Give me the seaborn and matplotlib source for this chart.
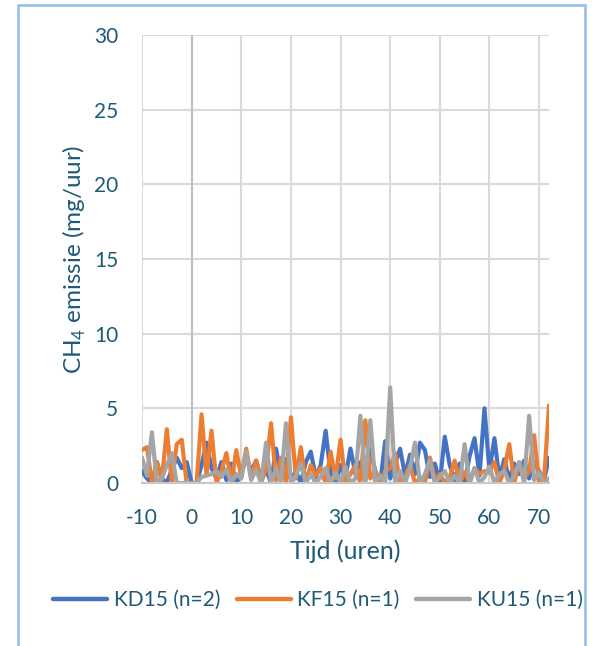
import numpy as np
import pandas as pd
import seaborn as sns
import matplotlib
matplotlib.use("Agg")
import matplotlib.pyplot as plt
from matplotlib.patches import Rectangle

# Hourly CH4 emission per treatment group
hours = list(range(-10, 73))
kd15 = [0.8, 0.3, 0.0, 1.4, 0.3, 0.0, 0.9, 1.7, 1.0, 1.4,
        0.0, 0.0, 1.2, 2.7, 1.0, 0.3, 1.4, 0.2, 1.3, 0.0,
        0.6, 1.7, 0.8, 1.5, 0.2, 0.9, 0.0, 2.3, 0.5, 1.6,
        0.2, 0.8, 0.0, 1.4, 2.1, 0.4, 1.2, 3.5, 0.6, 0.0,
        1.2, 0.4, 2.3, 0.6, 1.4, 0.2, 2.2, 0.8, 0.0, 2.8,
        0.3, 1.3, 2.3, 0.5, 1.9, 0.6, 2.7, 2.2, 0.4, 1.3,
        0.0, 3.1, 1.2, 0.2, 1.3, 0.0, 1.8, 3.0, 0.5, 5.0,
        0.8, 3.0, 0.3, 1.6, 0.2, 1.3, 0.6, 1.5, 0.3, 1.4,
        0.8, 0.2, 1.7]
kf15 = [2.2, 2.4, 0.0, 1.4, 0.2, 3.6, 0.0, 2.6, 2.9, 0.0,
        0.0, 0.0, 4.6, 0.5, 3.5, 0.0, 0.8, 2.0, 0.0, 2.2,
        0.4, 2.3, 0.3, 1.5, 0.0, 1.0, 4.0, 0.2, 1.7, 0.0,
        4.4, 0.3, 2.4, 0.0, 1.2, 0.5, 1.0, 0.0, 2.1, 0.3,
        2.9, 0.0, 0.6, 1.2, 0.0, 4.2, 0.3, 0.8, 0.0, 0.8,
        1.0, 2.0, 0.0, 0.4, 1.2, 0.0, 0.3, 0.0, 1.7, 0.2,
        0.6, 0.0, 0.4, 1.5, 0.0, 0.7, 0.0, 1.0, 0.6, 0.8,
        0.7, 1.4, 0.0, 0.9, 2.6, 0.0, 1.4, 0.3, 0.8, 3.2,
        0.0, 0.2, 5.2]
ku15 = [1.7, 0.5, 3.4, 0.0, 0.3, 1.2, 2.0, 0.0, 0.0, 0.0,
        0.0, 0.0, 0.4, 0.5, 0.6, 0.8, 0.4, 0.9, 0.0, 0.6,
        0.3, 2.1, 0.2, 0.9, 0.0, 2.7, 0.0, 1.0, 0.0, 4.0,
        0.0, 0.5, 1.3, 0.0, 0.6, 0.0, 0.4, 1.0, 0.0, 0.7,
        0.0, 1.1, 0.0, 0.3, 4.5, 0.0, 4.2, 0.0, 0.5, 0.0,
        6.4, 0.0, 0.8, 0.0, 1.0, 2.7, 0.0, 0.6, 1.5, 0.0,
        0.4, 0.8, 0.0, 0.5, 0.0, 2.6, 0.0, 1.0, 0.0, 0.4,
        1.1, 0.0, 0.6, 0.8, 0.0, 0.5, 1.4, 0.0, 4.5, 0.2,
        0.7, 0.0, 0.3]
series_names = ["KD15 (n=2)", "KF15 (n=1)", "KU15 (n=1)"]
colors = ["#4472C4", "#ED7D31", "#A5A5A5"]
x_ticks = list(range(-10, 71, 10))
y_ticks = list(range(0, 31, 5))

df = pd.DataFrame({
    "Tijd": hours * 3,
    "CH4": kd15 + kf15 + ku15,
    "Groep": [series_names[0]] * len(hours) + [series_names[1]] * len(hours)
             + [series_names[2]] * len(hours),
})

sns.set_theme(style="white")
plt.rcParams["font.family"] = ["Lato", "DejaVu Sans"]
plt.rcParams["mathtext.fontset"] = "custom"
plt.rcParams["mathtext.rm"] = "Lato"
plt.rcParams["axes.unicode_minus"] = False
text_color = "#1F5A78"

fig = plt.figure(figsize=(5.92, 6.46), dpi=100)
ax = fig.add_axes([142 / 592, 1 - 483 / 646, (549 - 142) / 592, (483 - 35) / 646])

sns.lineplot(data=df, x="Tijd", y="CH4", hue="Groep", hue_order=series_names,
             palette=colors, linewidth=3.0, ax=ax, legend=True,
             solid_capstyle="round", solid_joinstyle="round")

ax.set_xlim(-10, 72)
ax.set_ylim(0, 30)
ax.set_xticks(x_ticks)
ax.set_yticks(y_ticks)
ax.grid(True, color="#D9D9D9", linewidth=1.5, zorder=0)
ax.set_axisbelow(True)
for side in ["top", "right", "left"]:
    ax.spines[side].set_visible(False)
ax.spines["bottom"].set_color("#C8C8C8")
ax.spines["bottom"].set_linewidth(1.5)
ax.axvline(0, color="#BFBFBF", linewidth=1.5, zorder=1)

ax.tick_params(axis="both", length=0, labelsize=15, colors=text_color)
ax.tick_params(axis="y", pad=17)
ax.tick_params(axis="x", pad=18)
ax.set_xlabel("Tijd (uren)", fontsize=18, color=text_color, labelpad=8)
ax.set_ylabel(r"CH$_\mathregular{4}$ emissie (mg/uur)", fontsize=17.5,
              color=text_color, labelpad=4.5)

handles, labels = ax.get_legend_handles_labels()
ax.get_legend().remove()
for h in handles:
    h.set_linewidth(3.2)
leg = fig.legend(handles, labels, loc="center", bbox_to_anchor=(318 / 592, 1 - 600 / 646),
                 ncol=3, frameon=False, fontsize=15, handlelength=2.6,
                 handletextpad=0.3, columnspacing=0.8, borderaxespad=0)
for t in leg.get_texts():
    t.set_color(text_color)

# Outer chart frame
fig.patches.append(Rectangle((18 / 592, -0.05), (585 - 18) / 592, 1 - 5 / 646 + 0.05,
                             transform=fig.transFigure, fill=False,
                             edgecolor="#8FBCE6", linewidth=1.8))

fig.savefig("out.png", dpi=100)
